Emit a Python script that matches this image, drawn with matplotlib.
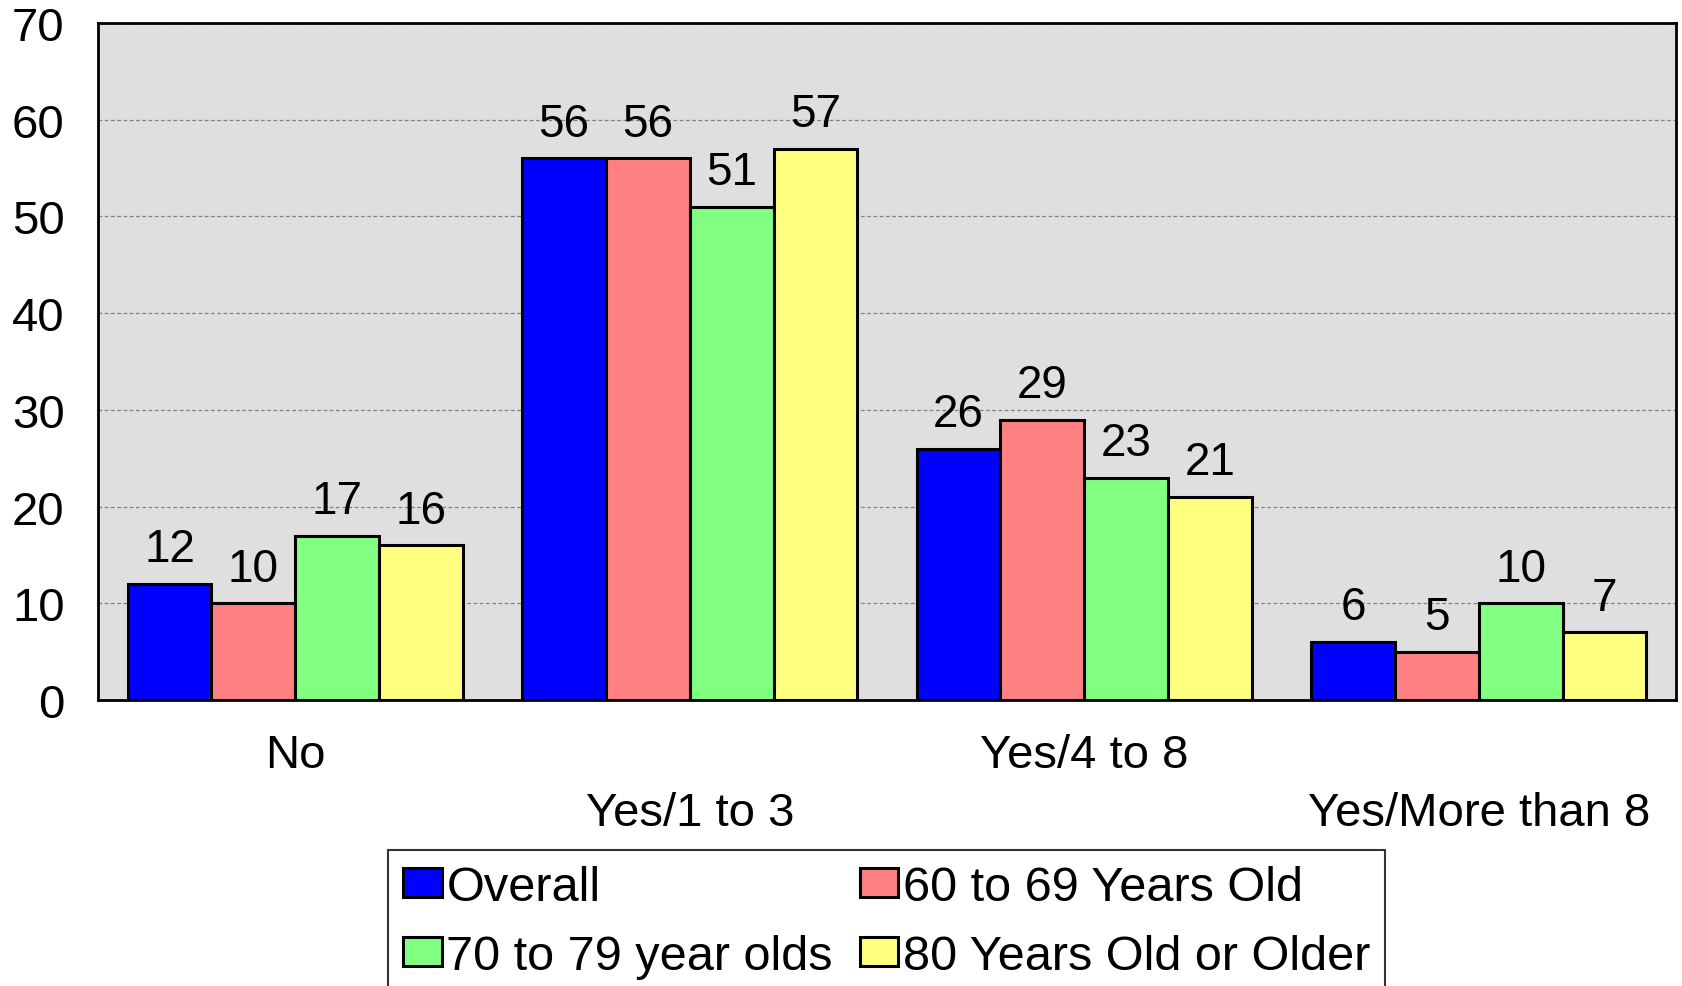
import numpy as np
import matplotlib
matplotlib.use("Agg")
import matplotlib.pyplot as plt

plt.rcParams['font.family'] = ['Liberation Sans', 'DejaVu Sans']

# Données
categories = ["No", "Yes/1 to 3", "Yes/4 to 8", "Yes/More than 8"]
series_noms = ["Overall", "60 to 69 Years Old", "70 to 79 year olds", "80 Years Old or Older"]
overall = [12, 56, 26, 6]
ans_60_69 = [10, 56, 29, 5]
ans_70_79 = [17, 51, 23, 10]
ans_80_plus = [16, 57, 21, 7]
y_ticks = [0, 10, 20, 30, 40, 50, 60, 70]

couleurs = ["#0000FF", "#FF8080", "#80FF80", "#FFFF80"]
valeurs = [overall, ans_60_69, ans_70_79, ans_80_plus]

fig = plt.figure(figsize=(16.82, 9.87), dpi=100)
ax = fig.add_axes([0.0583, 0.2898, 0.9381, 0.6859])
ax.set_facecolor("#DFDFDF")

x = np.arange(len(categories))
largeur = 0.2125
barres = []
for i, (nom, vals, c) in enumerate(zip(series_noms, valeurs, couleurs)):
    pos = x + (i - 1.5) * largeur
    b = ax.bar(pos, vals, largeur, color=c, edgecolor="black", linewidth=2.2,
               label=nom, zorder=3)
    barres.append(b)
    for xi, v in zip(pos, vals):
        ax.annotate(str(v), (xi, v), xytext=(0, 9), textcoords="offset points",
                    ha="center", va="bottom", fontsize=33)

ax.set_xlim(-0.5, len(categories) - 0.5)
ax.set_ylim(0, 70)
ax.set_yticks(y_ticks)
ax.set_yticklabels([str(t) for t in y_ticks], fontsize=34)
ax.tick_params(axis="y", length=0, pad=24)
ax.set_xticks(x)
ax.set_xticklabels([c if i % 2 == 0 else "\n" + c for i, c in enumerate(categories)],
                   fontsize=34, linespacing=1.4)
ax.tick_params(axis="x", length=0, pad=24)

ax.yaxis.grid(True, linestyle=(0, (3, 2)), color="#808080", linewidth=0.9, zorder=0)
ax.set_axisbelow(True)
for s in ax.spines.values():
    s.set_linewidth(2)
    s.set_color("black")

ordre = [0, 2, 1, 3]
leg = fig.legend([barres[i] for i in ordre], [series_noms[i] for i in ordre],
                 ncol=2, loc="upper left", bbox_to_anchor=(0.2307, 0.1378),
                 fontsize=35, frameon=True, fancybox=False, edgecolor="black",
                 handlelength=0.8, handleheight=0.55, handletextpad=0.1,
                 columnspacing=0.55, borderpad=0.3, labelspacing=0.5,
                 borderaxespad=0)
leg.get_frame().set_linewidth(1.5)

fig.savefig("out.png", dpi=100)
